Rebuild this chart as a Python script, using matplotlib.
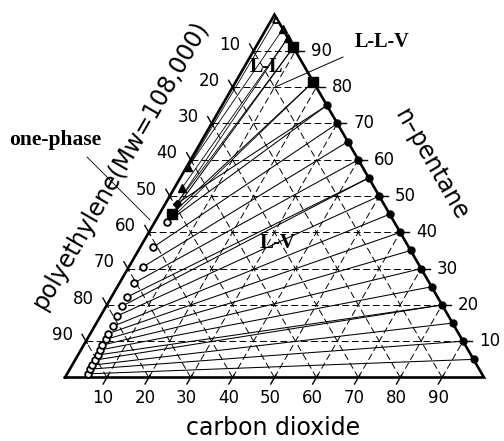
import numpy as np
import matplotlib
matplotlib.use("Agg")
import matplotlib.pyplot as plt

# Compositions in wt% given as (CO2, n-pentane); polyethylene is the balance.
# Polymer-rich liquid phase (open circles)
pe_rich_co2 = [4.9, 4.8, 4.8, 4.75, 4.7, 4.6, 4.4, 4.5, 4.25, 4.4, 3.9, 3.7, 3.75, 3.4, 3.3, 3.1, 3.0]
pe_rich_pent = [1.0, 2.3, 3.4, 4.8, 6.2, 7.6, 8.9, 10.5, 12.1, 14.1, 16.9, 19.6, 22.2, 26.0, 30.4, 35.9, 42.8]
# Polymer-free vapour phase (filled circles on the CO2 / n-pentane side)
vap_pent = [5, 10, 15, 20, 25, 30, 35, 40, 45, 50, 55, 60, 65, 70, 75]
vap_co2 = [100 - p for p in vap_pent]
# Which vapour point each polymer-rich point is tied to
tie_vap_index = [0, 1, 2, 3, 3, 4, 5, 6, 7, 8, 9, 10, 10, 11, 12, 13, 14]

# Three-phase L-L-V points (squares)
llv_co2 = [3.0, 9.0, 18.5]
llv_pent = [45.1, 91.0, 81.5]
# Liquid-liquid tie line ends (filled triangles)
ll_left_co2 = [1.8, 0.4]
ll_left_pent = [52.3, 57.9]
ll_right_co2 = [6.4, 4.0]
ll_right_pent = [93.6, 96.0]
# Extra points
mid_co2 = [2.7]
mid_pent = [47.9]
apex_co2 = [1.0]
apex_pent = [98.5]

ticks = [10, 20, 30, 40, 50, 60, 70, 80, 90]

S3 = np.sqrt(3) / 2
PX = 4.19  # pixels per composition unit
X0, Y0 = 65.0, 377.5  # pixel position of the pure-polyethylene corner


def xy(co2, pent):
    co2 = np.asarray(co2, float)
    pent = np.asarray(pent, float)
    return co2 + pent / 2.0, pent * S3


def at(px, py):
    """Figure pixel position -> axes data position (for annotations)."""
    return (px - X0) / PX, (Y0 - py) / PX


fig = plt.figure(figsize=(5.04, 4.41), dpi=100)
ax = fig.add_axes([0, 0, 1, 1])
ax.set_xlim(-X0 / PX, (504 - X0) / PX)
ax.set_ylim(-(441 - Y0) / PX, Y0 / PX)
ax.axis("off")

grid_kw = dict(color="black", lw=0.7, dashes=(7, 3.5), zorder=1)
for t in ticks:
    # constant n-pentane (horizontal)
    ax.plot(*xy([0, 100 - t], [t, t]), **grid_kw)
    # constant CO2
    ax.plot(*xy([t, t], [0, 100 - t]), **grid_kw)
    # constant polyethylene
    ax.plot(*xy([100 - t, 0], [0, 100 - t]), **grid_kw)

# vapour-liquid tie lines
tie_kw = dict(color="black", lw=0.75, zorder=2)
for c, p, j in zip(pe_rich_co2, pe_rich_pent, tie_vap_index):
    ax.plot(*xy([c, vap_co2[j]], [p, vap_pent[j]]), **tie_kw)
ax.plot(*xy([mid_co2[0], vap_co2[-1]], [mid_pent[0], vap_pent[-1]]), **tie_kw)

# liquid-liquid tie lines
ll_kw = dict(color="black", lw=0.6, zorder=2)
for k in range(2):
    ax.plot(*xy([ll_left_co2[k], ll_right_co2[k]], [ll_left_pent[k], ll_right_pent[k]]), **ll_kw)
ax.plot(*xy([ll_left_co2[1], apex_co2[0]], [ll_left_pent[1], apex_pent[0]]), **ll_kw)
ax.plot(*xy([mid_co2[0], ll_right_co2[0]], [mid_pent[0], ll_right_pent[0]]), **ll_kw)
ax.plot(*xy([mid_co2[0], llv_co2[1]], [mid_pent[0], llv_pent[1]]), **ll_kw)
ax.plot(*xy([pe_rich_co2[-1], llv_co2[2]], [pe_rich_pent[-1], llv_pent[2]]), **ll_kw)

# three-phase triangle
ax.plot(*xy([llv_co2[0], llv_co2[1]], [llv_pent[0], llv_pent[1]]), **tie_kw)
ax.plot(*xy([llv_co2[0], llv_co2[2]], [llv_pent[0], llv_pent[2]]), **tie_kw)

# triangle frame
ax.plot(*xy([0, 100, 0, 0], [0, 0, 100, 0]), color="black", lw=1.9,
        solid_joinstyle="miter", zorder=4)

# ticks and tick labels
tk = dict(color="black", lw=1.0, zorder=4)
for t in ticks:
    # bottom (CO2)
    x0, y0 = xy(t, 0)
    ax.plot([x0 + 0.35, x0 - 0.9], [y0 + 0.6, y0 - 1.55], **tk)
    ax.text(x0 - 0.95, y0 - 4.9, str(t), ha="center", va="center", fontsize=12)
    # right (n-pentane)
    x0, y0 = xy(100 - t, t)
    ax.plot([x0 - 0.4, x0 + 2.1], [y0, y0], **tk)
    ax.text(x0 + 3.8, y0, str(t), ha="left", va="center", fontsize=12)
    # left (polyethylene)
    x0, y0 = xy(0, 100 - t)
    ax.plot([x0 + 0.3, x0 - 0.95], [y0 - 0.52, y0 + 1.65], **tk)
    ax.text(x0 - 3.1, y0 + 1.5, str(t), ha="right", va="center", fontsize=12)

# markers
ax.plot(*xy(pe_rich_co2, pe_rich_pent), "o", ms=4.8, mfc="white", mec="black", mew=1.3, zorder=5)
ax.plot(*xy(vap_co2, vap_pent), "o", ms=5, color="black", zorder=5)
ax.plot(*xy(llv_co2, llv_pent), "s", ms=6.5, color="black", zorder=5)
ax.plot(*xy(ll_left_co2 + ll_right_co2, ll_left_pent + ll_right_pent), "^", ms=5.5, color="black", zorder=5)
ax.plot(*xy(mid_co2, mid_pent), "D", ms=4.5, color="black", zorder=5)
ax.plot(*xy(apex_co2, apex_pent), "^", ms=5, mfc="white", mec="black", mew=1.3, zorder=5)

# axis titles
ax.text(*at(273, 428), "carbon dioxide", ha="center", va="center", fontsize=17)
ax.text(*at(121, 165), "polyethylene(Mw=108,000)", ha="center", va="center",
        rotation=60, rotation_mode="anchor", fontsize=17)
ax.text(*at(431, 165), "n\u2013pentane", ha="center", va="center",
        rotation=-60, rotation_mode="anchor", fontsize=17)

# region labels
rl = dict(family="Liberation Serif", weight="bold", ha="center", va="center")
ax.text(*at(266, 67), "L-L", fontsize=14.5, **rl)
ax.text(*at(382, 42), "L-L-V", fontsize=14.5, **rl)
ax.text(*at(278, 243), "L-V", fontsize=15, **rl)
ax.text(*at(55, 140), "one-phase", fontsize=15.5, **rl)

# leader lines
ax.plot(*zip(at(343, 57), at(273, 88)), color="black", lw=0.7, zorder=3)
ax.plot(*zip(at(87, 157), at(150, 220)), color="black", lw=0.6, zorder=3)

fig.savefig("out.png", dpi=100)
